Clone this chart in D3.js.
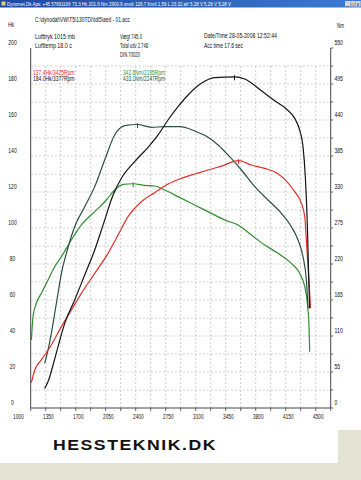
<!DOCTYPE html>
<html><head><meta charset="utf-8">
<script src="https://cdn.jsdelivr.net/npm/d3@7"></script>
<style>html,body{margin:0;padding:0;background:#fff;}svg{display:block;}text{font-family:"Liberation Sans Narrow","Liberation Sans",Arial,sans-serif;}</style>
</head><body><svg id="c" width="361" height="480"></svg>
<script>
// ---------- data ----------
const xTicks = [1000,1350,1700,2050,2400,2750,3100,3450,3800,4150,4500];
const hkTicks = [0,20,40,60,80,100,120,140,160,180,200];
const nmTicks = [0,55,110,165,220,275,330,385,440,495,550];

const rpmTunedHk = [1163,1210,1261,1319,1397,1513,1630,1747,1863,1961,2058,2213,2369,2486,2602,2719,2836,2991,3147,3377,3497,3691,3847,3983,4080,4138,4177,4204,4228,4243,4255];
const tunedHk    = [10.9,15.6,23.9,34.1,47.0,60.0,73.9,87.8,104.4,118.3,127.6,136.9,144.8,151.7,160.0,167.4,173.9,180.4,183.5,184.0,182.8,176.3,170.7,166.1,160.9,154.4,145.2,128.5,100.7,73.0,55.4];

const rpmStockHk = [1008,1047,1124,1241,1358,1474,1591,1747,1902,2019,2136,2291,2447,2602,2758,2913,3069,3225,3425,3575,3730,3866,3964,4080,4158,4197,4216,4236,4255,4263];
const stockHk    = [14.1,21.1,26.7,35.0,45.2,54.4,63.7,74.8,85.9,96.1,106.3,114.6,119.6,124.4,127.6,130.0,132.2,134.4,137.4,135.0,133.1,130.7,127.0,120.2,113.7,106.3,93.3,78.5,63.7,55.4];

const rpmTunedNm = [1163,1202,1241,1280,1319,1358,1416,1513,1630,1747,1863,1980,2097,2247,2408,2563,2738,2913,3069,3186,3302,3458,3614,3769,3925,4041,4119,4177,4216,4236];
const tunedNm    = [68.2,88.6,114.1,144.6,175.2,205.7,236.3,277.0,307.6,338.2,378.9,417.1,431.4,433.1,428.8,429.8,429.8,423.2,413.5,401.8,386.6,363.6,338.1,317.8,297.4,277.0,256.7,231.2,195.6,152.3];

const rpmStockNm = [1008,1027,1066,1124,1202,1280,1358,1474,1591,1747,1883,1980,2078,2195,2330,2447,2563,2719,2913,3108,3264,3419,3575,3730,3886,4041,4138,4197,4228,4247,4255];
const stockNm    = [103.9,139.5,160.0,175.2,195.6,215.9,231.2,256.7,279.6,300.0,317.8,333.0,341.7,342.6,340.2,339.2,333.0,322.9,310.1,297.4,287.2,279.6,264.3,249.1,236.3,221.0,205.7,185.4,159.9,124.2,86.1];

const peakLabels = ["137.4Hk/3425Rpm","184.0Hk/3377Rpm","342.6Nm/2195Rpm","433.1Nm/2247Rpm"];
const titleText = "Dynomet.Dk Aps: +45 57891166  73.3 Hk 201.6 Nm 2900.9 omdr 126.7 Km/t  1.59 L 23.32 afr 5.28 V 5.28 V 5.28 V";
const filePath = "C:\\dynodat\\VW\\T5\\130TDI\\tdi5\\aed - 01.acc";

// ---------- chart ----------
const svg = d3.select("#c");
const X0 = 30.7, X1 = 330.7, Y0 = 408, Y1 = 48;
const x = d3.scaleLinear().domain([1000,4500]).range([X0,X1]);
const yHk = d3.scaleLinear().domain([0,200]).range([Y0,Y1]);
const yNm = d3.scaleLinear().domain([0,550]).range([Y0,Y1]);

svg.append("rect").attr("width",361).attr("height",480).attr("fill","#fff");
// bottom beige
svg.append("rect").attr("x",0).attr("y",463).attr("width",361).attr("height",17).attr("fill","#e4e3d4");
svg.append("rect").attr("x",338).attr("y",430).attr("width",23).attr("height",50).attr("fill","#e4e3d4");

// title bar
const grad = svg.append("defs").append("linearGradient").attr("id","tb");
grad.append("stop").attr("offset","0%").attr("stop-color","#1e4aa0");
grad.append("stop").attr("offset","100%").attr("stop-color","#3c7ad2");
svg.append("rect").attr("x",0).attr("y",0).attr("width",361).attr("height",7.5).attr("fill","url(#tb)");
svg.append("rect").attr("x",1.5).attr("y",1.5).attr("width",4).attr("height",4).attr("fill","#e8d070");
svg.append("text").attr("x",7).attr("y",6).attr("font-size",5).attr("fill","#fff")
  .attr("textLength",224).attr("lengthAdjust","spacingAndGlyphs").text(titleText);
["_","\u25A1","x"].forEach((g,i)=>{
  svg.append("rect").attr("x",345+i*5.3).attr("y",1).attr("width",5).attr("height",5.5).attr("fill","#d8d6cc");
  svg.append("text").attr("x",347.5+i*5.3).attr("y",5.6).attr("font-size",5).attr("text-anchor","middle").attr("fill","#111").text(g);
});

// header texts
function txt(s,xp,yp,len,color,size){
  const t = svg.append("text").attr("x",xp).attr("y",yp).attr("font-size",size||7).attr("fill",color||"#111").text(s);
  if(len) t.attr("textLength",len).attr("lengthAdjust","spacingAndGlyphs");
  return t;
}
txt(filePath,35,22,95);
txt("Hk",8,27,6);
txt("Nm",337,28,7);
txt("Lufttryk  1015 mb",35,39,40);
txt("Lufttemp  18.0 c",35,48,37);
txt("Vægt    745.0",120,39,22);
txt("Total udv 2.748",120,48,28);
txt("DIN 70020",120,56.5,20);
txt("Date/Time  28-05-2008 12:52:44",204,38,73);
txt("Acc time   17.6 sec",204,47.5,39);

// grid
const g = svg.append("g");
d3.range(10,200,10).forEach(v=>{
  g.append("line").attr("x1",X0).attr("x2",X1).attr("y1",yHk(v)).attr("y2",yHk(v))
   .attr("stroke","#b8b8b8").attr("stroke-width",0.7).attr("stroke-dasharray","2,2");
});
d3.range(1175,4500,175).forEach(v=>{
  g.append("line").attr("x1",x(v)).attr("x2",x(v)).attr("y1",yHk(190)).attr("y2",Y0)
   .attr("stroke","#b8b8b8").attr("stroke-width",0.7).attr("stroke-dasharray","2,2");
});

// axes
svg.append("line").attr("x1",X0).attr("x2",X0).attr("y1",Y1).attr("y2",Y0).attr("stroke","#444").attr("stroke-width",1);
svg.append("line").attr("x1",X1).attr("x2",X1).attr("y1",Y1).attr("y2",Y0).attr("stroke","#444").attr("stroke-width",1);
svg.append("line").attr("x1",X0).attr("x2",X1).attr("y1",Y0).attr("y2",Y0).attr("stroke","#444").attr("stroke-width",1);
d3.range(1000,4501,175).forEach(v=>{
  svg.append("line").attr("x1",x(v)).attr("x2",x(v)).attr("y1",Y0).attr("y2",Y0+3).attr("stroke","#444").attr("stroke-width",0.8);
});
d3.range(0,201,10).forEach(v=>{
  svg.append("line").attr("x1",X1).attr("x2",X1+2.5).attr("y1",yHk(v)).attr("y2",yHk(v)).attr("stroke","#444").attr("stroke-width",0.8);
});

// tick labels
xTicks.forEach(v=>{
  svg.append("text").attr("x",x(v)-12.4).attr("y",418.5).attr("font-size",7).attr("text-anchor","middle")
    .attr("fill","#111").attr("textLength",10.5).attr("lengthAdjust","spacingAndGlyphs").text(v);
});
hkTicks.forEach(v=>{
  const s = String(v);
  svg.append("text").attr("x",12.5).attr("y",yHk(v)-3).attr("font-size",7).attr("text-anchor","middle")
    .attr("fill","#111").attr("textLength",s.length*2.8).attr("lengthAdjust","spacingAndGlyphs").text(s);
});
nmTicks.forEach(v=>{
  const s = String(v);
  svg.append("text").attr("x",334.5).attr("y",yNm(v)-3).attr("font-size",7)
    .attr("fill","#111").attr("textLength",s.length*2.8).attr("lengthAdjust","spacingAndGlyphs").text(s);
});

// curves
const cols = {stockHk:"#e0302a", tunedHk:"#141414", stockNm:"#2f8f2f", tunedNm:"#2c4f45"};
function draw(rpm,vals,yS,color){
  const pts = rpm.map((r,i)=>[x(r),yS(vals[i])]);
  svg.append("path").attr("d",d3.line().curve(d3.curveMonotoneX)(pts))
    .attr("fill","none").attr("stroke",color).attr("stroke-width",1.2).attr("stroke-linejoin","round");
  let mi = d3.maxIndex(vals);
  const px = x(rpm[mi]), py = yS(vals[mi]);
  svg.append("line").attr("x1",px).attr("x2",px).attr("y1",py-1.5).attr("y2",py+3.5).attr("stroke",color).attr("stroke-width",1);
}
draw(rpmStockNm,stockNm,yNm,cols.stockNm);
draw(rpmTunedNm,tunedNm,yNm,cols.tunedNm);
draw(rpmStockHk,stockHk,yHk,cols.stockHk);
draw(rpmTunedHk,tunedHk,yHk,cols.tunedHk);

// peak legends
txt(peakLabels[0],33,75.3,41.5,cols.stockHk,6.5);
txt(peakLabels[1],33,81.3,41.5,"#111",6.5);
txt(peakLabels[2],123,75.3,42,cols.stockNm,6.5);
txt(peakLabels[3],123,81.3,42,cols.tunedNm,6.5);

// logo
svg.append("text").attr("x",53).attr("y",450).attr("font-size",14).attr("font-weight","600")
  .style("font-family","'Liberation Sans',Arial,sans-serif").attr("fill","#111")
  .attr("textLength",164).attr("lengthAdjust","spacingAndGlyphs").attr("letter-spacing",1.2).text("HESSTEKNIK.DK");
</script></body></html>
